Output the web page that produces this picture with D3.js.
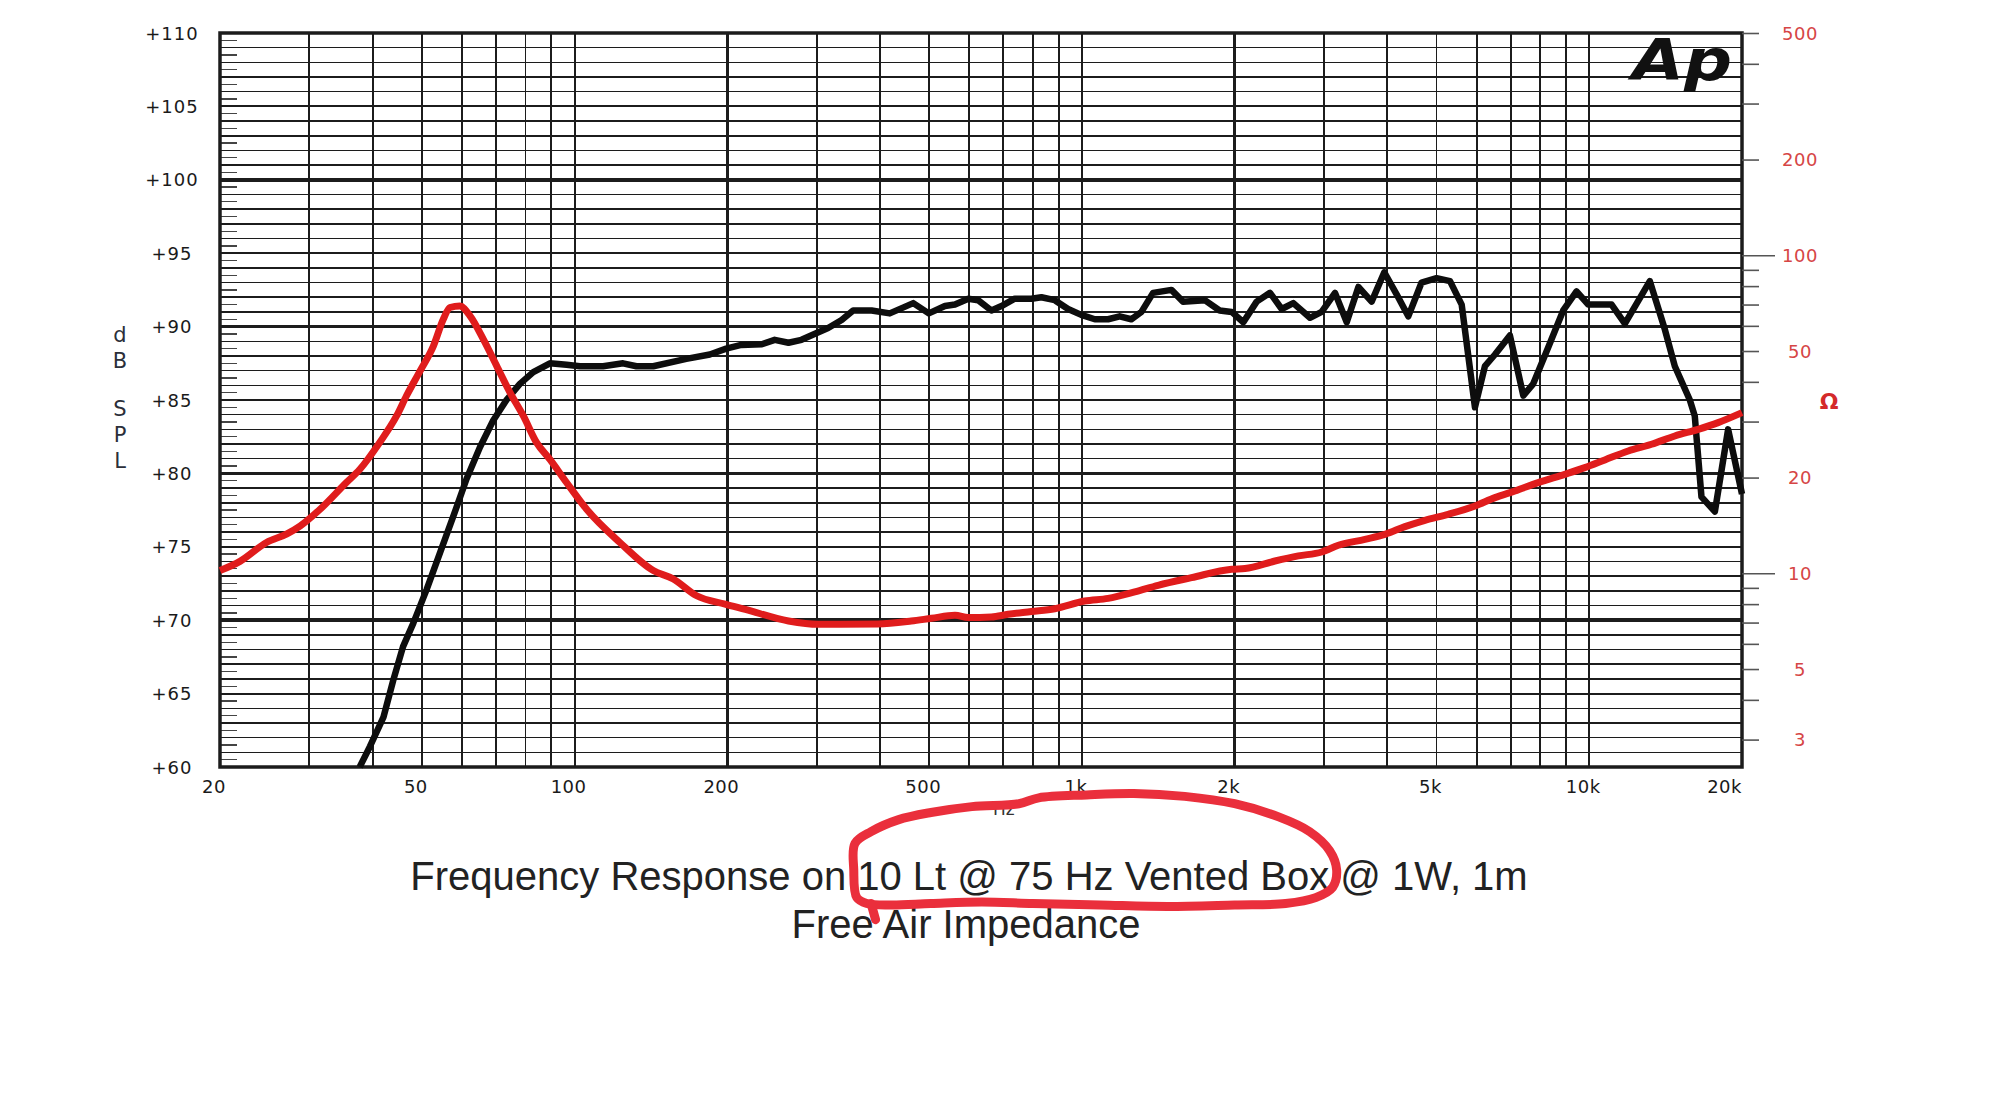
<!DOCTYPE html>
<html lang="en">
<head>
  <meta charset="UTF-8">
  <title>Frequency Response</title>
  <script src="https://cdn.jsdelivr.net/npm/d3@7/dist/d3.min.js"></script>
  <style>
    body { margin: 0; background: #fff; }
    svg { display: block; }
  </style>
</head>
<body>

  <svg id="svg" width="2000" height="1107"></svg>

  <script>
    // SPL curve (black, left axis)
    const splFreq = [37.7, 39.5, 42, 43.9, 45.9, 48.1, 51.1, 54.3, 57.7, 61.2, 65.1, 69.1, 73.4, 78, 82.9, 89.4, 96.4, 102.4, 113.8, 124.6, 132.4, 142.9, 166, 184.7, 199,
      213, 234, 248, 264, 280, 297, 316, 336, 354, 385, 418, 465, 499, 537, 562, 597, 624, 663, 694, 737, 795, 832, 884, 939, 997,
      1060, 1126, 1187, 1251, 1310, 1381, 1501, 1582, 1746, 1868, 1973, 2080, 2210, 2348, 2476, 2610, 2815, 2968, 3154, 3326, 3507,
      3724, 3944, 4171, 4398, 4671, 5000, 5315, 5604, 5952, 6227, 6518, 6975, 7412, 7754, 8302, 8884, 9438, 9954, 11066, 11754,
      13163, 14094, 14745, 15784, 16143, 16640, 17684, 18780, 20000]
    const splDb = [60.0, 61.4, 63.4, 65.9, 68.2, 69.8, 72.1, 74.6, 77.1, 79.6, 81.8, 83.6, 85.0, 86.1, 86.9, 87.5, 87.4, 87.3, 87.3, 87.5, 87.3, 87.3, 87.8, 88.1, 88.5,
      88.75, 88.8, 89.1, 88.9, 89.1, 89.5, 89.9, 90.45, 91.1, 91.1, 90.9, 91.6, 90.9, 91.4, 91.5, 91.9, 91.8, 91.1, 91.4, 91.9, 91.9, 92.0, 91.8, 91.2, 90.8,
      90.5, 90.5, 90.7, 90.5, 91.0, 92.3, 92.5, 91.7, 91.8, 91.1, 91.0, 90.3, 91.7, 92.3, 91.2, 91.6, 90.6, 91.0, 92.3, 90.3, 92.7,
      91.7, 93.7, 92.2, 90.7, 93.0, 93.3, 93.1, 91.5, 84.5, 87.3, 88.1, 89.4, 85.3, 86.1, 88.6, 91.1, 92.4, 91.5, 91.5, 90.2,
      93.1, 89.8, 87.3, 85.0, 83.9, 78.4, 77.4, 83.0, 78.6]

    // Free air impedance (red, right axis, ohms)
    const zFreq = [20, 21.9, 24.7, 27.1, 28.8, 31.5, 35.5, 37.7, 41.3, 44.6, 46.6, 49.6, 52.7, 55.1, 56.8, 59.4, 62.2, 66.1, 70.2, 74.6,
      79.2, 84.1, 89.4, 96.4, 105.6, 122.8, 142.9, 156.5, 174, 198, 217, 264, 302, 396, 461, 505, 562, 597, 663, 715, 795, 884,
      1013, 1126, 1271, 1413, 1644, 1973, 2096, 2401, 2670, 2968, 3202, 3612, 3956, 4332, 4743, 5272, 5952, 6518, 7136, 7933,
      8951, 9800, 10731, 11934, 13266, 14745, 16390, 17948, 20000]
    const zOhm = [10.2, 10.9, 12.5, 13.3, 14.1, 15.9, 19.3, 21.2, 25.8, 31.3, 36.1, 43.3, 51.9, 62.9, 68.5, 69.3, 64.5, 54.4, 44.9, 37,
      31.3, 25.8, 22.8, 19.3, 15.9, 12.5, 10.2, 9.6, 8.5, 8.0, 7.7, 7.08, 6.91, 6.93, 7.08, 7.22, 7.38, 7.26, 7.29, 7.43, 7.58, 7.74,
      8.18, 8.34, 8.74, 9.17, 9.69, 10.3, 10.35, 10.93, 11.34, 11.67, 12.25, 12.79, 13.26, 14.02, 14.68, 15.33, 16.28, 17.3, 18.15, 19.28,
      20.48, 21.49, 22.72, 24.25, 25.45, 27.03, 28.36, 29.77, 32]

    const freqLabels = [20, 50, 100, 200, 500, 1000, 2000, 5000, 10000, 20000]
    const dbLabels = [60, 65, 70, 75, 80, 85, 90, 95, 100, 105, 110]
    const ohmLabels = [500, 200, 100, 50, 20, 10, 5, 3]
    const ohmTicks = [3, 4, 5, 6, 7, 8, 9, 10, 20, 30, 40, 50, 60, 70, 80, 90, 100, 200, 300, 400, 500]
    const titleLines = ['Frequency Response on 10 Lt @ 75 Hz Vented Box @ 1W, 1m', 'Free Air Impedance']

    // hand drawn ring around part of the title, in chart units (Hz, dB)
    const ringFreq = [357, 384, 434, 504, 607, 751, 822, 1022, 1265, 1594, 2000, 2442, 2810, 3078, 3177, 3120, 2888, 2520, 2000, 1476, 1084, 800, 635, 504, 420, 377, 360, 355]
    const ringDb = [54.8, 55.6, 56.4, 56.9, 57.3, 57.5, 57.9, 58.1, 58.2, 58.0, 57.5, 56.6, 55.6, 54.3, 53.0, 51.8, 51.1, 50.7, 50.6, 50.5, 50.6, 50.7, 50.8, 50.7, 50.6, 50.7, 51.1, 53.0]

    const margin = { top: 33, left: 220 }
    const width = 1522
    const height = 734

    const x = d3.scaleLog().domain([20, 20000]).range([margin.left, margin.left + width])
    const y = d3.scaleLinear().domain([60, 110]).range([margin.top + height, margin.top])
    const z = d3.scaleLog().domain([2.46, 500]).range([margin.top + height, margin.top])

    const svg = d3.select('#svg')
    svg.append('rect').attr('width', 2000).attr('height', 1107).attr('fill', '#fff')

    const grid = svg.append('g').attr('stroke', '#1c1c1c').attr('shape-rendering', 'crispEdges')

    // 1 dB lines
    grid.selectAll('.hmin')
      .data(d3.range(61, 110).filter(v => v % 10 !== 0))
      .join('line')
      .attr('x1', x(20)).attr('x2', x(20000))
      .attr('y1', d => y(d)).attr('y2', d => y(d))
      .attr('stroke-width', d => d % 5 === 0 ? 2 : 1.5)

    // half dB ticks on the left edge
    grid.selectAll('.half')
      .data(d3.range(60.5, 110, 1))
      .join('line')
      .attr('x1', x(20)).attr('x2', x(20) + 17)
      .attr('y1', d => y(d)).attr('y2', d => y(d))
      .attr('stroke-width', 1.3)
      .attr('stroke', '#444')

    // frequency lines
    const fMinor = []
    ;[20, 200, 2000].forEach(base => [1.5, 2, 2.5, 3, 3.5, 4, 4.5, 5].forEach(m => fMinor.push(base * m)))
    grid.selectAll('.vmin')
      .data(fMinor)
      .join('line')
      .attr('x1', d => x(d)).attr('x2', d => x(d))
      .attr('y1', y(60)).attr('y2', y(110))
      .attr('stroke-width', 1.8)

    grid.selectAll('.hmaj')
      .data([70, 80, 90, 100])
      .join('line')
      .attr('x1', x(20)).attr('x2', x(20000))
      .attr('y1', d => y(d)).attr('y2', d => y(d))
      .attr('stroke-width', 3.5)

    grid.selectAll('.vmaj')
      .data([200, 2000])
      .join('line')
      .attr('x1', d => x(d)).attr('x2', d => x(d))
      .attr('y1', y(60)).attr('y2', y(110))
      .attr('stroke-width', 3.5)

    svg.append('rect')
      .attr('x', x(20)).attr('y', y(110))
      .attr('width', x(20000) - x(20)).attr('height', y(60) - y(110))
      .attr('fill', 'none').attr('stroke', '#1c1c1c').attr('stroke-width', 3.5)

    // right impedance axis
    const zAxis = svg.append('g')
      .attr('transform', `translate(${x(20000)},0)`)
      .call(d3.axisRight(z).tickValues(ohmTicks).tickSize(17).tickFormat(''))
    zAxis.select('.domain').remove()
    zAxis.selectAll('.tick line')
      .attr('stroke', '#555').attr('stroke-width', 1.6)
      .attr('x2', d => (d === 10 || d === 100) ? 33 : 17)

    svg.append('g').selectAll('text')
      .data(ohmLabels)
      .join('text')
      .attr('x', 1800).attr('y', d => z(d))
      .attr('text-anchor', 'middle').attr('dominant-baseline', 'central')
      .attr('font-family', 'DejaVu Sans').attr('font-size', 18)
      .attr('letter-spacing', 0.5)
      .attr('fill', '#d64545')
      .text(d => d)

    svg.append('text')
      .attr('x', 1829).attr('y', 401)
      .attr('text-anchor', 'middle').attr('dominant-baseline', 'central')
      .attr('font-family', 'DejaVu Sans').attr('font-weight', 'bold').attr('font-size', 22)
      .attr('fill', '#d42a2a')
      .text('Ω')

    // left dB labels
    svg.append('g').selectAll('text')
      .data(dbLabels)
      .join('text')
      .attr('x', 172).attr('y', d => y(d))
      .attr('text-anchor', 'middle').attr('dominant-baseline', 'central')
      .attr('font-family', 'DejaVu Sans').attr('font-size', 18)
      .attr('letter-spacing', 1)
      .attr('fill', '#1a1a1a')
      .text(d => '+' + d)

    // dB SPL stacked letters
    const letters = [['d', 335], ['B', 361], ['S', 409], ['P', 435], ['L', 461]]
    svg.append('g').selectAll('text')
      .data(letters)
      .join('text')
      .attr('x', 120).attr('y', d => d[1])
      .attr('text-anchor', 'middle').attr('dominant-baseline', 'central')
      .attr('font-family', 'DejaVu Sans').attr('font-size', 21)
      .attr('fill', '#2b2f3a')
      .text(d => d[0])

    // frequency labels
    const fmt = d => d >= 1000 ? (d / 1000) + 'k' : d
    svg.append('g').selectAll('text')
      .data(freqLabels)
      .join('text')
      .attr('x', d => d === 20000 ? x(d) : x(d) - 6)
      .attr('y', 793)
      .attr('text-anchor', d => d === 20000 ? 'end' : 'middle')
      .attr('font-family', 'DejaVu Sans').attr('font-size', 18)
      .attr('letter-spacing', 0.5)
      .attr('fill', '#1a1a1a')
      .text(fmt)

    svg.append('text')
      .attr('x', x(1000) - 78).attr('y', 815)
      .attr('text-anchor', 'middle')
      .attr('font-family', 'DejaVu Sans').attr('font-size', 17)
      .attr('fill', '#333')
      .text('Hz')

    // Ap logo
    svg.append('text')
      .attr('x', 1632).attr('y', 80)
      .attr('font-family', 'DejaVu Sans').attr('font-weight', 'bold').attr('font-style', 'italic')
      .attr('font-size', 57)
      .attr('textLength', 100).attr('lengthAdjust', 'spacingAndGlyphs')
      .attr('fill', '#111')
      .text('Ap')

    // curves: black SPL first, red impedance on top
    const spl = splFreq.map((f, i) => ({ f, v: splDb[i] }))
    const imp = zFreq.map((f, i) => ({ f, v: zOhm[i] }))

    svg.append('path')
      .datum(spl)
      .attr('fill', 'none')
      .attr('stroke', '#0d0d0d')
      .attr('stroke-width', 6.5)
      .attr('stroke-linejoin', 'round')
      .attr('d', d3.line().x(d => x(d.f)).y(d => y(d.v)))

    svg.append('path')
      .datum(imp)
      .attr('fill', 'none')
      .attr('stroke', '#e01c1c')
      .attr('stroke-width', 7)
      .attr('stroke-linejoin', 'round')
      .attr('d', d3.line().x(d => x(d.f)).y(d => z(d.v)).curve(d3.curveMonotoneX))

    // title
    svg.append('g').selectAll('text')
      .data(titleLines)
      .join('text')
      .attr('x', (d, i) => i === 0 ? 969 : 966)
      .attr('y', (d, i) => 890 + i * 48)
      .attr('text-anchor', 'middle')
      .attr('font-family', 'Liberation Sans').attr('font-size', 40)
      .attr('fill', '#222')
      .text(d => d)

    // red ring annotation
    const ring = ringFreq.map((f, i) => ({ f, v: ringDb[i] }))
    svg.append('path')
      .datum(ring)
      .attr('fill', 'none')
      .attr('stroke', '#ea2f3c')
      .attr('stroke-width', 9)
      .attr('stroke-linecap', 'round')
      .attr('d', d3.line().x(d => x(d.f)).y(d => y(d.v)).curve(d3.curveCatmullRomClosed))
    svg.append('path')
      .datum([{ f: 384, v: 50.7 }, { f: 392, v: 49.6 }])
      .attr('fill', 'none')
      .attr('stroke', '#ea2f3c')
      .attr('stroke-width', 9)
      .attr('stroke-linecap', 'round')
      .attr('d', d3.line().x(d => x(d.f)).y(d => y(d.v)))
  </script>
</body>
</html>
